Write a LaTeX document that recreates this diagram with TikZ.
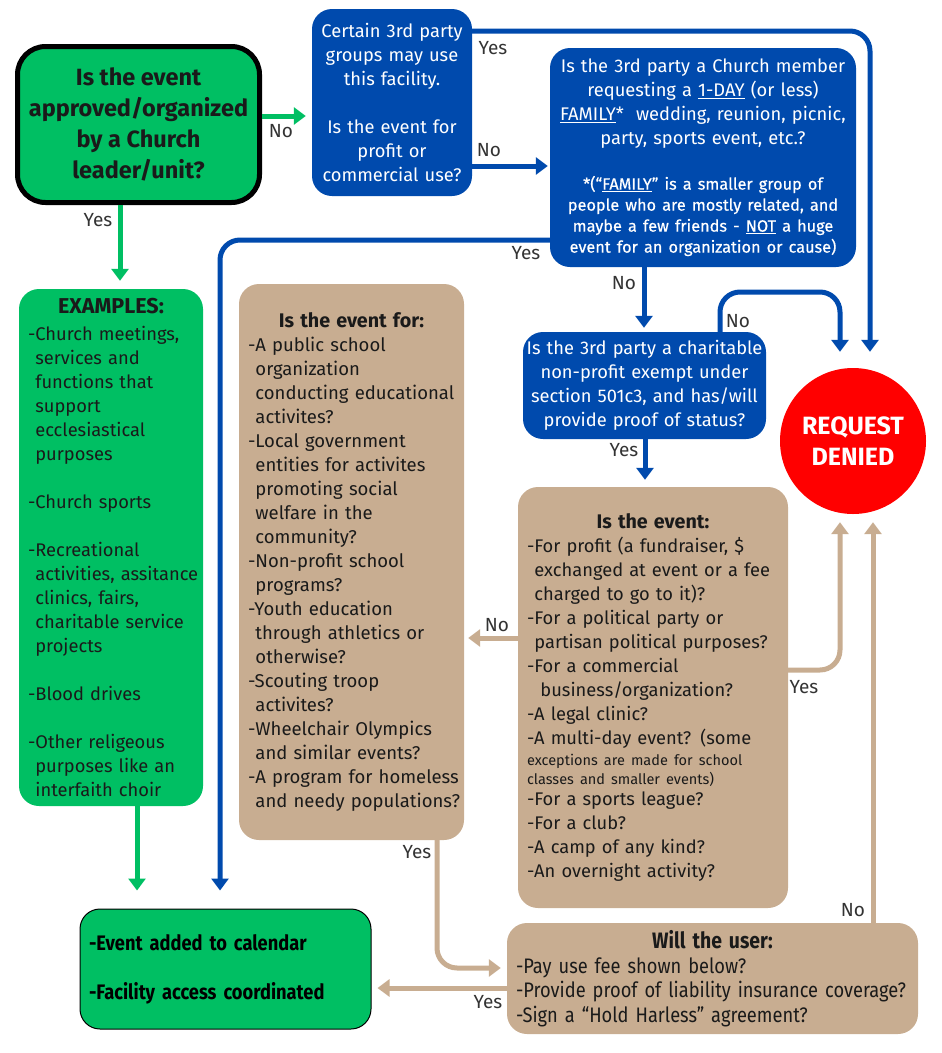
\documentclass[tikz,border=0pt]{standalone}
\usepackage{fontspec}
\setmainfont{Fira Sans}
\newfontfamily\condfont[FakeStretch=0.87]{Fira Sans}
\newfontfamily\medfont[FakeBold=0.5]{Fira Sans}
\usetikzlibrary{arrows.meta}

\definecolor{churchgreen}{HTML}{00BF63}
\definecolor{churchblue}{HTML}{004AAD}
\definecolor{boxtan}{HTML}{C8AD91}
\definecolor{deniedred}{HTML}{FF0000}
\definecolor{lbltext}{HTML}{333333}
\definecolor{bodytext}{HTML}{1A1A1A}

\newcommand{\ind}{\phantom{-}}
\newcommand{\boxtitle}[2][19.7]{\makebox[\linewidth]{\bfseries\fontsize{#1}{24}\selectfont #2}}

\tikzset{
  box/.style={rectangle, rounded corners=20pt, inner xsep=9pt, inner ysep=0pt},
  bluebox/.style={box, inner xsep=3pt, fill=churchblue, text=white, align=center,
    font=\fontsize{18.3}{24}\selectfont},
  greenbox/.style={box, fill=churchgreen, text=bodytext, align=left,
    font=\fontsize{18.3}{24}\selectfont},
  tanbox/.style={box, fill=boxtan, text=bodytext, align=left,
    font=\fontsize{18.5}{24}\selectfont},
  arr/.style={line width=5pt, -{Triangle[length=12pt,width=17pt]}, rounded corners=20pt},
  garr/.style={arr, draw=churchgreen},
  barr/.style={arr, draw=churchblue},
  tarr/.style={arr, draw=boxtan},
  lbl/.style={font=\fontsize{19}{22}\selectfont, text=lbltext, inner sep=1pt}
}

\begin{document}
\begin{tikzpicture}[x=1pt,y=-1pt]
\useasboundingbox (0,0) rectangle (942,1053);

% question boxes
\node[box, draw=black, line width=5pt, fill=churchgreen, rounded corners=28pt,
  minimum width=242pt, minimum height=156pt, align=center, text=bodytext,
  font=\bfseries\fontsize{23.5}{31}\selectfont] (start) at (138.5,124.5)
  {Is the event\\ approved/organized\\ by a Church\\ leader/unit?};

\node[bluebox, minimum width=160pt, minimum height=187pt, text width=154pt] (thirdparty) at (392,102.5)
  {Certain 3rd party\\ groups may use\\ this facility.\\[24pt] Is the event for\\ profit or\\ commercial use?};

\node[bluebox, minimum width=306pt, minimum height=219pt, text width=300pt] (family) at (703,157.5)
  {Is the 3rd party a Church member\\ requesting a \underline{1-DAY} (or less)\\
   \underline{FAMILY}*\ \ wedding, reunion, picnic,\\ party, sports event, etc.?\par
   \vspace{24pt}{\medfont\fontsize{16.3}{21}\selectfont *(“\underline{FAMILY}” is a smaller group of\\
   people who are mostly related, and\\ maybe a few friends - \underline{NOT} a huge\\
   event for an organization or cause)\par}};

\node[bluebox, minimum width=243pt, minimum height=107pt, text width=237pt] (charity) at (644.5,385.5)
  {Is the 3rd party a charitable\\ non-profit exempt under\\ section 501c3, and has/will\\ provide proof of status?};

\node[circle, fill=deniedred, minimum size=146pt, inner sep=0pt, text=white, align=center,
  font=\bfseries\fontsize{25}{31}\selectfont] (denied) at (853,441) {REQUEST\\ DENIED};

% lists
\node[greenbox, minimum width=184pt, minimum height=517pt, text width=166pt] (examples) at (111,547.5)
  {\boxtitle[21.5]{EXAMPLES:}\\[3pt]
   -Church meetings,\\ \ind services and\\ \ind functions that\\ \ind support\\
   \ind ecclesiastical\\ \ind purposes\\[24pt]
   -Church sports\\[24pt]
   -Recreational\\ \mbox{\ind activities, assitance}\\ \ind clinics, fairs,\\
   \ind charitable service\\ \ind projects\\[24pt]
   -Blood drives\\[24pt]
   -Other religeous\\ \ind purposes like an\\ \ind interfaith choir};

\node[tanbox, minimum width=225pt, minimum height=556pt, text width=207pt] (eventfor) at (351.5,562)
  {\boxtitle{Is the event for:}\\
   -A public school\\ \ind organization\\ \mbox{\ind conducting educational}\\ \ind activites?\\
   -Local government\\ \ind entities for activites\\ \ind promoting social\\
   \ind welfare in the\\ \ind community?\\
   -Non-profit school\\ \ind programs?\\
   -Youth education\\ \ind through athletics or\\ \ind otherwise?\\
   -Scouting troop\\ \ind activites?\\
   -Wheelchair Olympics\\ \ind and similar events?\\
   \mbox{-A program for homeless}\\ \mbox{\ind and needy populations?}};

\node[tanbox, minimum width=270pt, minimum height=421pt, text width=252pt,
  font=\fontsize{18.3}{24}\selectfont] (eventis) at (653,697.5)
  {\boxtitle{Is the event:}\\
   -For profit (a fundraiser, \$\\ \mbox{\ind exchanged at event or a fee}\\ \ind charged to go to it)?\\
   -For a political party or\\ \mbox{\ind partisan political purposes?}\\
   -For a commercial\\ \ind\ business/organization?\\
   -A legal clinic?\\
   -A multi-day event? (some\par
   \vspace{2pt}{\fontsize{14.5}{19}\selectfont exceptions are made for school\\ classes and smaller events)\par}
   \vspace{-3pt}-For a sports league?\\ -For a club?\\ -A camp of any kind?\\ -An overnight activity?};

\node[tanbox, minimum width=411pt, minimum height=111pt, text width=393pt,
  font=\condfont\fontsize{21}{24.5}\selectfont] (willuser) at (712.5,978.5)
  {\boxtitle[22.3]{Will the user:}\\
   -Pay use fee shown below?\\
   \mbox{-Provide proof of liability insurance coverage?}\\
   -Sign a “Hold Harless” agreement?};

\node[box, draw=black, line width=1pt, fill=churchgreen, minimum width=291pt, minimum height=120pt,
  text width=273pt, align=left, text=black, font=\condfont\bfseries\fontsize{21}{24.5}\selectfont]
  (approved) at (225.5,969)
  {-Event added to calendar\\[24.5pt] -Facility access coordinated};

% connectors
\draw[garr, shorten >=6pt] (start.east |- 0,116) -- (thirdparty.west |- 0,116);
\draw[garr, shorten >=8pt] (start.south -| 120,0) -- (examples.north -| 120,0);
\draw[garr, shorten >=18pt] (examples.south -| 137,0) -- (approved.north -| 137,0);
\draw[barr, shorten >=16pt] (thirdparty.east |- 0,31) -| (denied.north -| 870,0);
\draw[barr, shorten >=2pt] (thirdparty.east |- 0,166) -- (family.west |- 0,166);
\draw[barr, shorten >=18pt] (family.west |- 0,240) -| (approved.north -| 220,0);
\draw[barr, shorten >=4pt] (family.south -| 644,0) -- (charity.north -| 644,0);
\draw[barr, shorten >=16pt] (charity.north -| 720,0) -- (720,292) -- (840,292) -- (denied.north -| 840,0);
\draw[barr, shorten >=7pt] (charity.south -| 645,0) -- (eventis.north -| 645,0);
\draw[tarr, shorten >=4pt] (eventis.west |- 0,638) -- (eventfor.east |- 0,638);
\draw[tarr, shorten >=8pt] (eventis.east |- 0,670) -| (denied.south -| 840,0);
\draw[tarr, shorten >=8pt] (willuser.north -| 873,0) -- (denied.south -| 873,0);
\draw[tarr, shorten >=6pt] (eventfor.south -| 437,0) |- (willuser.west |- 0,968);
\draw[tarr, shorten >=6pt] (willuser.west |- 0,988) -- (approved.east |- 0,988);

% labels
\node[lbl] (noStart) at (281,131) {No};
\node[lbl] (yesStart) at (98,220) {Yes};
\node[lbl] (yesThird) at (493,48) {Yes};
\node[lbl] (noThird) at (489,150) {No};
\node[lbl] (yesFamily) at (526,253) {Yes};
\node[lbl] (noFamily) at (624,283) {No};
\node[lbl] (noCharity) at (738,321) {No};
\node[lbl] (yesCharity) at (624,450) {Yes};
\node[lbl] (noEventis) at (497,625) {No};
\node[lbl] (yesEventis) at (804,687) {Yes};
\node[lbl] (noWilluser) at (853,910) {No};
\node[lbl] (yesEventfor) at (417,852) {Yes};
\node[lbl] (yesWilluser) at (488,1002) {Yes};
\end{tikzpicture}
\end{document}
